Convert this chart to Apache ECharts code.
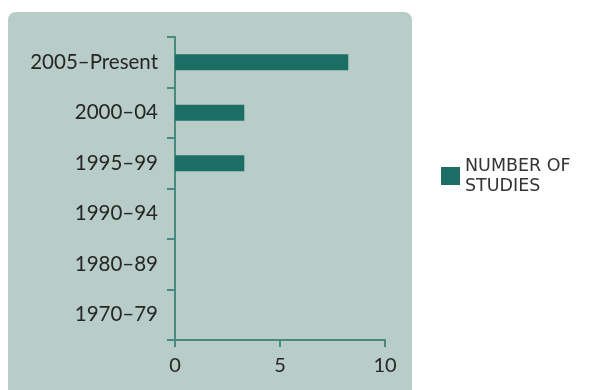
<!DOCTYPE html>
<html>
<head>
<meta charset="utf-8">
<script src="https://cdn.jsdelivr.net/npm/echarts@6/dist/echarts.min.js"></script>
<style>
html,body{margin:0;padding:0;background:#fff;}
#c{width:596px;height:390px;}
</style>
</head>
<body>
<div id="c"></div>
<script>
const categories = ['1970–79', '1980–89', '1990–94', '1995–99', '2000–04', '2005–Present'];
const studies = [0, 0, 0, 3.3, 3.3, 8.25];
const xTicks = [0, 5, 10];
const seriesName = 'NUMBER OF\nSTUDIES';

const chart = echarts.init(document.getElementById('c'), null, {renderer: 'canvas'});
const axisColor = '#4a8a7e';
const textColor = '#262626';
const font = 'Lato';
chart.setOption({
  backgroundColor: '#ffffff',
  animation: false,
  graphic: [{
    type: 'rect',
    z: -10,
    shape: {x: 8, y: 12, width: 404, height: 400, r: 8},
    style: {fill: '#b8ccc8'}
  }],
  legend: {
    left: 436, top: 151,
    itemWidth: 19, itemHeight: 18, itemGap: 10,
    icon: 'rect',
    textStyle: {color: '#333', fontSize: 17.5, fontFamily: 'DejaVu Sans', lineHeight: 20},
    data: [seriesName]
  },
  grid: {left: 175, right: 211, top: 37, bottom: 50, containLabel: false},
  xAxis: {
    type: 'value', min: xTicks[0], max: xTicks[xTicks.length - 1], interval: 5,
    axisLine: {show: true, lineStyle: {color: axisColor, width: 2}},
    axisTick: {show: true, length: 7, lineStyle: {color: axisColor, width: 2}},
    axisLabel: {color: textColor, fontSize: 20, fontFamily: font, margin: 16},
    splitLine: {show: false}
  },
  yAxis: {
    type: 'category', data: categories,
    axisLine: {show: true, lineStyle: {color: axisColor, width: 2}},
    axisTick: {show: true, length: 8, lineStyle: {color: axisColor, width: 2}},
    axisLabel: {color: textColor, fontSize: 20.5, fontFamily: font, margin: 17}
  },
  series: [{
    name: seriesName, type: 'bar', data: studies,
    barWidth: 16,
    itemStyle: {color: '#1c6e65'}
  }]
});
</script>
</body>
</html>
